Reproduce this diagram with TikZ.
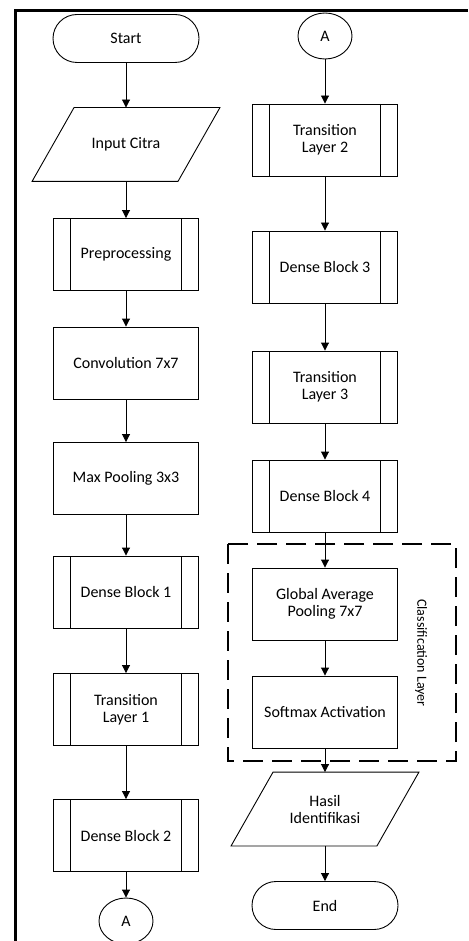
\documentclass[tikz,border=0pt]{standalone}
\usepackage{fontspec}
\setmainfont{Carlito}
\usetikzlibrary{arrows.meta,shapes.geometric}

\tikzset{
	box/.style={draw, line width=0.9pt, minimum width=145pt, minimum height=72pt, align=center, inner sep=2pt, font=\fontsize{16}{17}\selectfont},
	subproc/.style={box, path picture={
		\draw[line width=0.9pt] ([xshift=17pt]path picture bounding box.north west) -- ([xshift=17pt]path picture bounding box.south west);
		\draw[line width=0.9pt] ([xshift=-17pt]path picture bounding box.north east) -- ([xshift=-17pt]path picture bounding box.south east);
	}},
	term/.style={box, rounded corners=24pt, minimum width=146pt, minimum height=48pt},
	io/.style={box, draw=none, minimum height=73pt, append after command={\pgfextra{
		\draw[line width=0.9pt] ([xshift=-21pt]\tikzlastnode.south west) -- ([xshift=-21pt]\tikzlastnode.south east)
			-- ([xshift=21pt]\tikzlastnode.north east) -- ([xshift=21pt]\tikzlastnode.north west) -- cycle;
	}}},
	conn/.style={box, ellipse, minimum width=54pt, minimum height=46pt, inner sep=0pt},
	arr/.style={line width=0.9pt, -{Triangle[width=8pt,length=8pt]}}
}

\begin{document}
\begin{tikzpicture}[x=1pt, y=-1pt]
			%%%%% START %%%%%
			
			\useasboundingbox (0, 0) rectangle (468, 941);
			
			\draw[line width=3pt] (15.5, 941) -- (15.5, 10.5) -- (468, 10.5);
			
			% left column
			\node[term] (start) at (126, 38.5) {Start};
			\node[io] (input) at (126, 144.5) {Input Citra};
			\node[subproc] (prep) at (126, 254.5) {Preprocessing};
			\node[box] (conv) at (126, 363) {Convolution 7x7};
			\node[box] (maxpool) at (126, 478.5) {Max Pooling 3x3};
			\node[subproc] (dense1) at (126, 592) {Dense Block 1};
			\node[subproc] (trans1) at (126, 709.5) {Transition\\Layer 1};
			\node[subproc] (dense2) at (126, 835.5) {Dense Block 2};
			\node[conn] (conA) at (126, 921) {A};
			
			% right column
			\node[conn] (conB) at (325, 36) {A};
			\node[subproc] (trans2) at (325, 140) {Transition\\Layer 2};
			\node[subproc] (dense3) at (325, 267) {Dense Block 3};
			\node[subproc] (trans3) at (325, 387) {Transition\\Layer 3};
			\node[subproc] (dense4) at (325, 496) {Dense Block 4};
			\node[box] (gap) at (325, 604) {Global Average\\Pooling 7x7};
			\node[box] (softmax) at (325, 712) {Softmax Activation};
			\node[io] (hasil) at (325, 809) {Hasil\\Identifikasi};
			\node[term] (end) at (325, 905.5) {End};
			
			% classification layer
			\draw[line width=1.2pt, dash pattern=on 20pt off 9pt] (228, 544) rectangle (456, 761);
			\node[rotate=-90, font=\fontsize{14}{16}\selectfont] (classlbl) at (421, 653) {Classification Layer};
			
			\draw[arr] (start) -- (input);
			\draw[arr] (input) -- (prep);
			\draw[arr] (prep) -- (conv);
			\draw[arr] (conv) -- (maxpool);
			\draw[arr] (maxpool) -- (dense1);
			\draw[arr] (dense1) -- (trans1);
			\draw[arr] (trans1) -- (dense2);
			\draw[arr] (dense2) -- (conA);
			
			\draw[arr] (conB) -- (trans2);
			\draw[arr] (trans2) -- (dense3);
			\draw[arr] (dense3) -- (trans3);
			\draw[arr] (trans3) -- (dense4);
			\draw[arr] (dense4) -- (gap);
			\draw[arr] (gap) -- (softmax);
			\draw[arr] (softmax) -- (hasil);
			\draw[arr] (hasil) -- (end);
			
			%%%%% END %%%%%
\end{tikzpicture}
\end{document}
